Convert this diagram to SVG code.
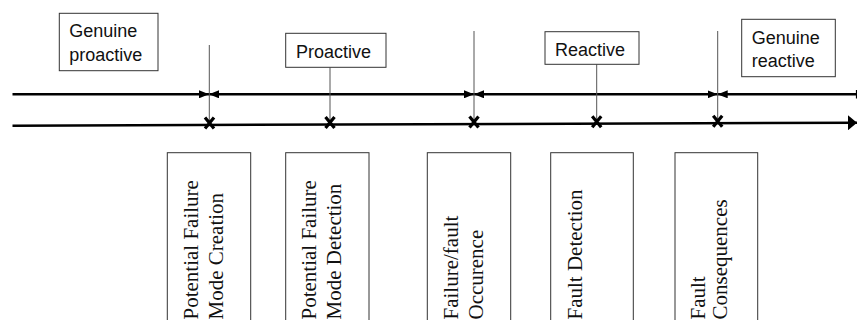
<svg xmlns="http://www.w3.org/2000/svg" width="857" height="320" viewBox="0 0 857 320">
<style>
.box{fill:#fff;stroke:#333;stroke-width:1}
.lbl{font-family:"Liberation Sans",Arial,sans-serif;font-size:18px;fill:#111}
.vl{font-family:"Liberation Serif","Times New Roman",serif;font-size:21px;fill:#111}
.axis{stroke:#000;stroke-width:2.5;fill:none}
.vert{stroke:#555;stroke-width:1;fill:none}
.xm{stroke:#000;stroke-width:3.2;fill:none}
</style>
<defs>
<marker id="ah" markerUnits="userSpaceOnUse" viewBox="0 0 10 8" refX="10" refY="4" markerWidth="10" markerHeight="8" orient="auto-start-reverse">
<path d="M0,0 L10,4 L0,8 z" fill="#000"/>
</marker>
<marker id="big" markerUnits="userSpaceOnUse" viewBox="0 0 9 15" refX="9" refY="7.5" markerWidth="9" markerHeight="15" orient="auto">
<path d="M0,0 L9,7.5 L0,15 z" fill="#000"/>
</marker>
</defs>
<g id="connectors">
<line class="axis" x1="12.5" y1="94.3" x2="209" y2="94.3" marker-end="url(#ah)"/>
<line class="axis" x1="209" y1="94.3" x2="474" y2="94.3" marker-start="url(#ah)" marker-end="url(#ah)"/>
<line class="axis" x1="474" y1="94.3" x2="717.7" y2="94.3" marker-start="url(#ah)" marker-end="url(#ah)"/>
<line class="axis" x1="717.7" y1="94.3" x2="856" y2="94.3" marker-start="url(#ah)"/>
<line stroke="#000" stroke-width="1.2" x1="856.5" y1="90" x2="856.5" y2="98.5"/>
<line class="axis" x1="12.5" y1="125.7" x2="857" y2="122.7" marker-end="url(#big)"/>
<line class="vert" x1="209.3" y1="45" x2="209.3" y2="124"/>
<line class="vert" x1="330" y1="67.3" x2="330" y2="123.5"/>
<line class="vert" x1="474" y1="31" x2="474" y2="123"/>
<line class="vert" x1="596.7" y1="64.3" x2="596.7" y2="123"/>
<line class="vert" x1="717.7" y1="31" x2="717.7" y2="122.5"/>
<path class="xm" d="M205,117.5 L214,128.5 M214,117.5 L205,128.5"/>
<path class="xm" d="M325.5,117 L334.5,128 M334.5,117 L325.5,128"/>
<path class="xm" d="M469.5,116.5 L478.5,127.5 M478.5,116.5 L469.5,127.5"/>
<path class="xm" d="M592.2,116.2 L601.2,127.2 M601.2,116.2 L592.2,127.2"/>
<path class="xm" d="M713.2,115.7 L722.2,126.7 M722.2,115.7 L713.2,126.7"/>
</g>
<g id="genuine-proactive">
<rect class="box" x="59.3" y="13.3" width="98.7" height="57.4"/>
<text class="lbl" x="69.3" y="36.7">Genuine</text>
<text class="lbl" x="69.3" y="61">proactive</text>
</g>
<g id="proactive">
<rect class="box" x="285.7" y="33.3" width="100.3" height="34"/>
<text class="lbl" x="296" y="58">Proactive</text>
</g>
<g id="reactive">
<rect class="box" x="545" y="31.7" width="94" height="32.6"/>
<text class="lbl" x="555" y="56">Reactive</text>
</g>
<g id="genuine-reactive">
<rect class="box" x="741.7" y="19.3" width="93.6" height="57.4"/>
<text class="lbl" x="751.7" y="44">Genuine</text>
<text class="lbl" x="751.7" y="67">reactive</text>
</g>
<g id="pfm-creation">
<rect class="box" x="167.3" y="152.7" width="83.4" height="180"/>
<text class="vl" transform="translate(197.7,319.5) rotate(-90)">Potential Failure</text>
<text class="vl" transform="translate(222.5,319.5) rotate(-90)">Mode Creation</text>
</g>
<g id="pfm-detection">
<rect class="box" x="285.7" y="152.7" width="83.3" height="180"/>
<text class="vl" transform="translate(316.2,319.5) rotate(-90)">Potential Failure</text>
<text class="vl" transform="translate(341,319.5) rotate(-90)">Mode Detection</text>
</g>
<g id="failure-occurence">
<rect class="box" x="427.3" y="152.7" width="83.4" height="180"/>
<text class="vl" transform="translate(458.2,319.5) rotate(-90)">Failure/fault</text>
<text class="vl" transform="translate(483,319.5) rotate(-90)">Occurence</text>
</g>
<g id="fault-detection">
<rect class="box" x="550.7" y="152.7" width="82.6" height="180"/>
<text class="vl" transform="translate(581.5,319.5) rotate(-90)">Fault Detection</text>
</g>
<g id="fault-consequences">
<rect class="box" x="675" y="152.7" width="82.7" height="180"/>
<text class="vl" transform="translate(705,319.5) rotate(-90)">Fault</text>
<text class="vl" transform="translate(726.5,319.5) rotate(-90)">Consequences</text>
</g>
</svg>
